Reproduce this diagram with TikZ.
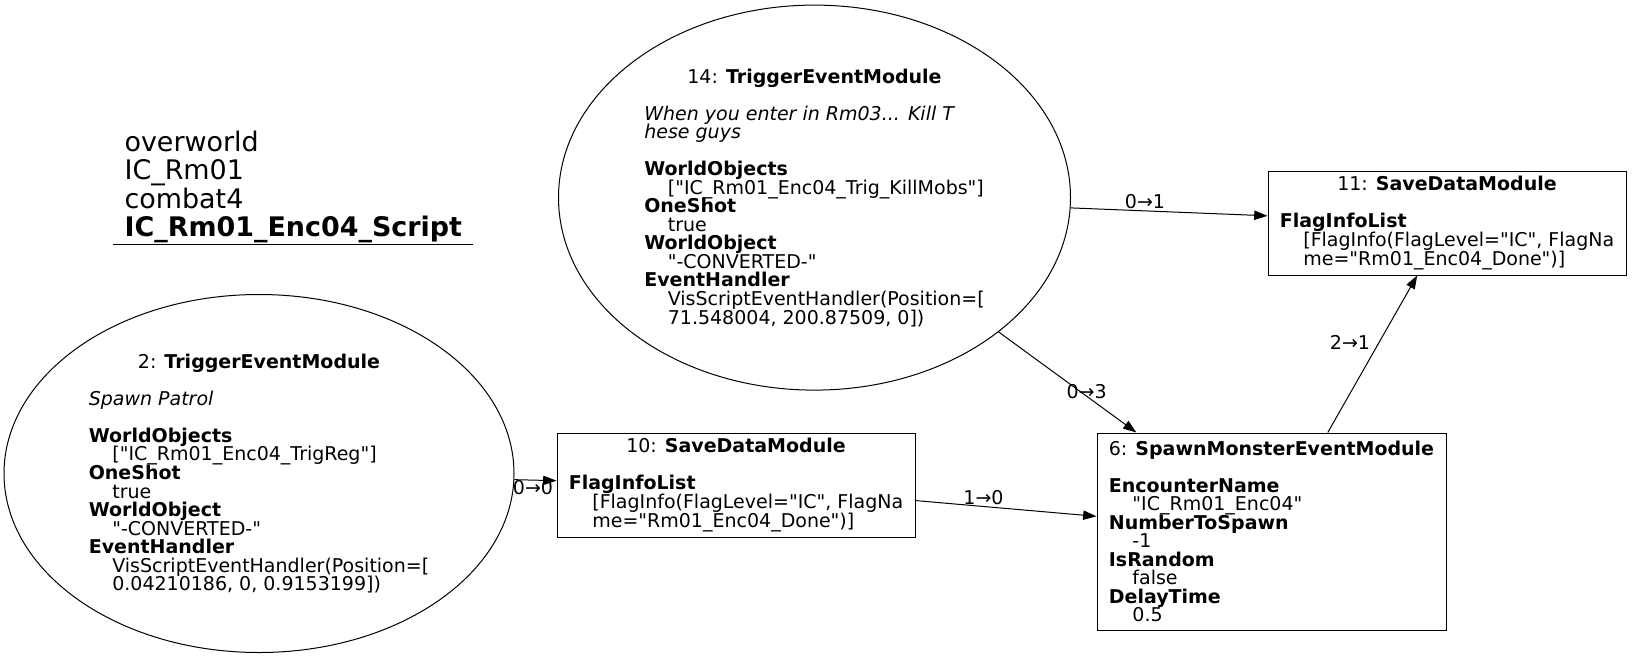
\documentclass[tikz,border=0pt]{standalone}
\usepackage{fontspec}
\newfontfamily\gv{DejaVu Sans}
\usetikzlibrary{shapes.geometric,arrows.meta}
\newcommand\gvind{\hspace*{1.24em}}
\newcommand\gvrows[1]{\vbox{\baselineskip=13.9pt\lineskiplimit=-100pt\lineskip=0pt\halign{##\hfil\cr#1\crcr}}}
\newcommand\gvtitle[1]{\hfil#1}
\begin{document}
\begin{tikzpicture}[x=0.75pt,y=-0.75pt,
  every node/.style={font=\gv\fontsize{14.25}{13.9}\selectfont, inner sep=0pt},
  ell/.style={draw, ellipse, line width=0.75pt},
  box/.style={draw, rectangle, line width=0.75pt},
  edge/.style={line width=0.75pt, -{Triangle[length=10pt,width=7pt]}},
  elabel/.style={}]
\useasboundingbox (0,0) rectangle (1632,657);

\node[anchor=base west, font=\gv\fontsize{20.2}{20}\selectfont] (title) at (124.3,151.7)
  {\begin{tabular}[t]{@{}l@{}}overworld\\IC\_Rm01\\combat4\\\textbf{IC\_Rm01\_Enc04\_Script}\end{tabular}};
\coordinate (ulA) at (113,244);
\coordinate (ulB) at (473,244);
\draw[line width=0.75pt] (ulA) -- (ulB);

\node[ell, minimum width=384pt, minimum height=288.75pt] (n14) at (814.5,197.6)
  {\gvrows{%
  \gvtitle{14: \textbf{TriggerEventModule}}\cr
  \cr
  \textit{When you enter in Rm03... Kill T}\cr
  \textit{hese guys}\cr
  \cr
  \textbf{WorldObjects}\cr
  \gvind ["IC\_Rm01\_Enc04\_Trig\_KillMobs"]\cr
  \textbf{OneShot}\cr
  \gvind true\cr
  \textbf{WorldObject}\cr
  \gvind "-CONVERTED-"\cr
  \textbf{EventHandler}\cr
  \gvind VisScriptEventHandler(Position=[\cr
  \gvind 71.548004, 200.87509, 0])}};

\node[ell, minimum width=382.5pt, minimum height=268.5pt] (n2) at (259,473.5)
  {\gvrows{%
  \gvtitle{2: \textbf{TriggerEventModule}}\cr
  \cr
  \textit{Spawn Patrol}\cr
  \cr
  \textbf{WorldObjects}\cr
  \gvind ["IC\_Rm01\_Enc04\_TrigReg"]\cr
  \textbf{OneShot}\cr
  \gvind true\cr
  \textbf{WorldObject}\cr
  \gvind "-CONVERTED-"\cr
  \textbf{EventHandler}\cr
  \gvind VisScriptEventHandler(Position=[\cr
  \gvind 0.04210186, 0, 0.9153199])}};

\node[box, minimum width=268.5pt, minimum height=78pt] (n10) at (736,485)
  {\gvrows{%
  \gvtitle{10: \textbf{SaveDataModule}}\cr
  \cr
  \textbf{FlagInfoList}\cr
  \gvind [FlagInfo(FlagLevel="IC", FlagNa\cr
  \gvind me="Rm01\_Enc04\_Done")]}};

\node[box, minimum width=268.5pt, minimum height=78pt] (n11) at (1447,223)
  {\gvrows{%
  \gvtitle{11: \textbf{SaveDataModule}}\cr
  \cr
  \textbf{FlagInfoList}\cr
  \gvind [FlagInfo(FlagLevel="IC", FlagNa\cr
  \gvind me="Rm01\_Enc04\_Done")]}};

\node[box, minimum width=261.75pt, minimum height=147.75pt] (n6) at (1271.5,531.5)
  {\gvrows{%
  \gvtitle{6: \textbf{SpawnMonsterEventModule}}\cr
  \cr
  \textbf{EncounterName}\cr
  \gvind "IC\_Rm01\_Enc04"\cr
  \textbf{NumberToSpawn}\cr
  \gvind -1\cr
  \textbf{IsRandom}\cr
  \gvind false\cr
  \textbf{DelayTime}\cr
  \gvind 0.5}};

\draw[edge] (n14) -- (n11);
\draw[edge] (n14) -- (n6);
\draw[edge] (n2) -- (n10);
\draw[edge] (n10) -- (n6);
\draw[edge] (n6) -- (n11);

\node[elabel] (l1) at (1145,201.7) {0→1};
\node[elabel] (l2) at (1086.7,391.7) {0→3};
\node[elabel] (l3) at (533,488) {0→0};
\node[elabel] (l4) at (983.5,497.5) {1→0};
\node[elabel] (l5) at (1350,342.7) {2→1};
\end{tikzpicture}
\end{document}
